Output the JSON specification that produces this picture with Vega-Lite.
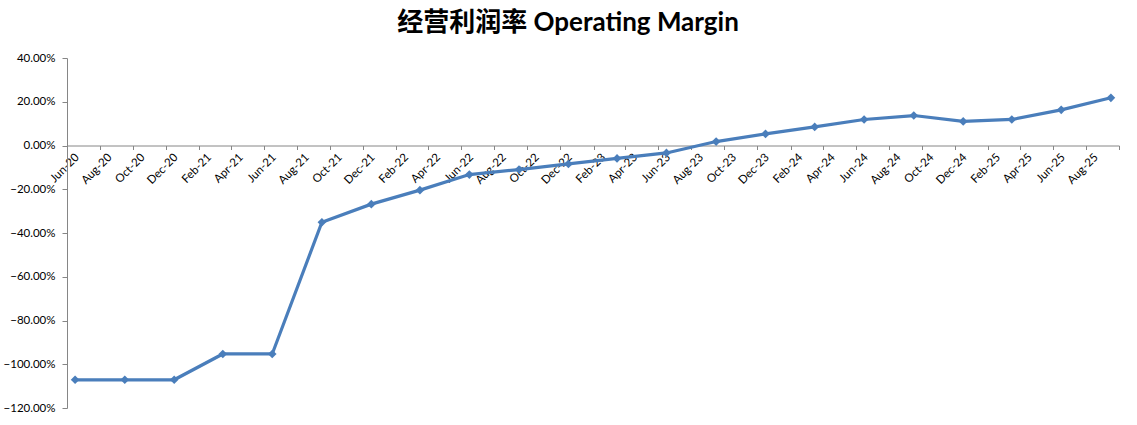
{
  "$schema": "https://vega.github.io/schema/vega-lite/v6.json",
  "width": 1052,
  "height": 350,
  "autosize": {"type": "none"},
  "padding": {"left": 67, "top": 58, "right": 18, "bottom": 17},
  "background": "white",
  "title": {
    "text": "经营利润率 Operating Margin",
    "font": "Lato, Noto Sans CJK SC",
    "fontSize": 26,
    "fontWeight": "bold",
    "color": "#000000",
    "anchor": "middle",
    "dx": -25,
    "offset": 16
  },
  "config": {
    "view": {"stroke": null},
    "axis": {"labelFont": "Lato", "labelFontSize": 11.5, "labelColor": "#000000", "domainColor": "#868686", "tickColor": "#868686", "grid": false, "title": null}
  },
  "data": {
    "values": [
      {"date": "2020-06-30", "margin": -1.071},
      {"date": "2020-09-30", "margin": -1.071},
      {"date": "2020-12-31", "margin": -1.071},
      {"date": "2021-03-31", "margin": -0.953},
      {"date": "2021-06-30", "margin": -0.953},
      {"date": "2021-09-30", "margin": -0.351},
      {"date": "2021-12-31", "margin": -0.268},
      {"date": "2022-03-31", "margin": -0.204},
      {"date": "2022-06-30", "margin": -0.133},
      {"date": "2022-09-30", "margin": -0.110},
      {"date": "2022-12-31", "margin": -0.084},
      {"date": "2023-03-31", "margin": -0.059},
      {"date": "2023-06-30", "margin": -0.034},
      {"date": "2023-09-30", "margin": 0.018},
      {"date": "2023-12-31", "margin": 0.053},
      {"date": "2024-03-31", "margin": 0.085},
      {"date": "2024-06-30", "margin": 0.119},
      {"date": "2024-09-30", "margin": 0.137},
      {"date": "2024-12-31", "margin": 0.110},
      {"date": "2025-03-31", "margin": 0.119},
      {"date": "2025-06-30", "margin": 0.163},
      {"date": "2025-09-30", "margin": 0.218}
    ]
  },
  "mark": {
    "type": "line",
    "color": "#4A7EBB",
    "strokeWidth": 3.2,
    "point": {"shape": "diamond", "size": 75, "filled": true, "color": "#4A7EBB"}
  },
  "encoding": {
    "x": {
      "field": "date",
      "type": "temporal",
      "timeUnit": "yearmonth",
      "bandPosition": 0.5,
      "scale": {
        "domain": [{"year": 2020, "month": "jun", "date": 1}, {"year": 2025, "month": "oct", "date": 1}],
        "nice": false
      },
      "axis": {
        "offset": -262.5,
        "labelExpr": "year(datum.value) == 2025 && month(datum.value) == 9 ? '' : timeFormat(datum.value, '%b-%y')",
        "labelAngle": -45,
        "labelAlign": "right",
        "labelBaseline": "middle",
        "labelOffset": 10,
        "labelPadding": 6,
        "tickSize": 4,
        "labelOverlap": false,
        "labelFlush": false,
        "labelBound": false,
        "values": [
          {"year": 2020, "month": "jun", "date": 1}, {"year": 2020, "month": "aug", "date": 1}, {"year": 2020, "month": "oct", "date": 1}, {"year": 2020, "month": "dec", "date": 1},
          {"year": 2021, "month": "feb", "date": 1}, {"year": 2021, "month": "apr", "date": 1}, {"year": 2021, "month": "jun", "date": 1}, {"year": 2021, "month": "aug", "date": 1}, {"year": 2021, "month": "oct", "date": 1}, {"year": 2021, "month": "dec", "date": 1},
          {"year": 2022, "month": "feb", "date": 1}, {"year": 2022, "month": "apr", "date": 1}, {"year": 2022, "month": "jun", "date": 1}, {"year": 2022, "month": "aug", "date": 1}, {"year": 2022, "month": "oct", "date": 1}, {"year": 2022, "month": "dec", "date": 1},
          {"year": 2023, "month": "feb", "date": 1}, {"year": 2023, "month": "apr", "date": 1}, {"year": 2023, "month": "jun", "date": 1}, {"year": 2023, "month": "aug", "date": 1}, {"year": 2023, "month": "oct", "date": 1}, {"year": 2023, "month": "dec", "date": 1},
          {"year": 2024, "month": "feb", "date": 1}, {"year": 2024, "month": "apr", "date": 1}, {"year": 2024, "month": "jun", "date": 1}, {"year": 2024, "month": "aug", "date": 1}, {"year": 2024, "month": "oct", "date": 1}, {"year": 2024, "month": "dec", "date": 1},
          {"year": 2025, "month": "feb", "date": 1}, {"year": 2025, "month": "apr", "date": 1}, {"year": 2025, "month": "jun", "date": 1}, {"year": 2025, "month": "aug", "date": 1}, {"year": 2025, "month": "oct", "date": 1}
        ]
      }
    },
    "y": {
      "field": "margin",
      "type": "quantitative",
      "scale": {"domain": [-1.2, 0.4], "nice": false, "zero": false},
      "axis": {
        "values": [-1.2, -1.0, -0.8, -0.6, -0.4, -0.2, 0, 0.2, 0.4],
        "format": ".2%",
        "tickSize": 5,
        "labelPadding": 7
      }
    }
  }
}
